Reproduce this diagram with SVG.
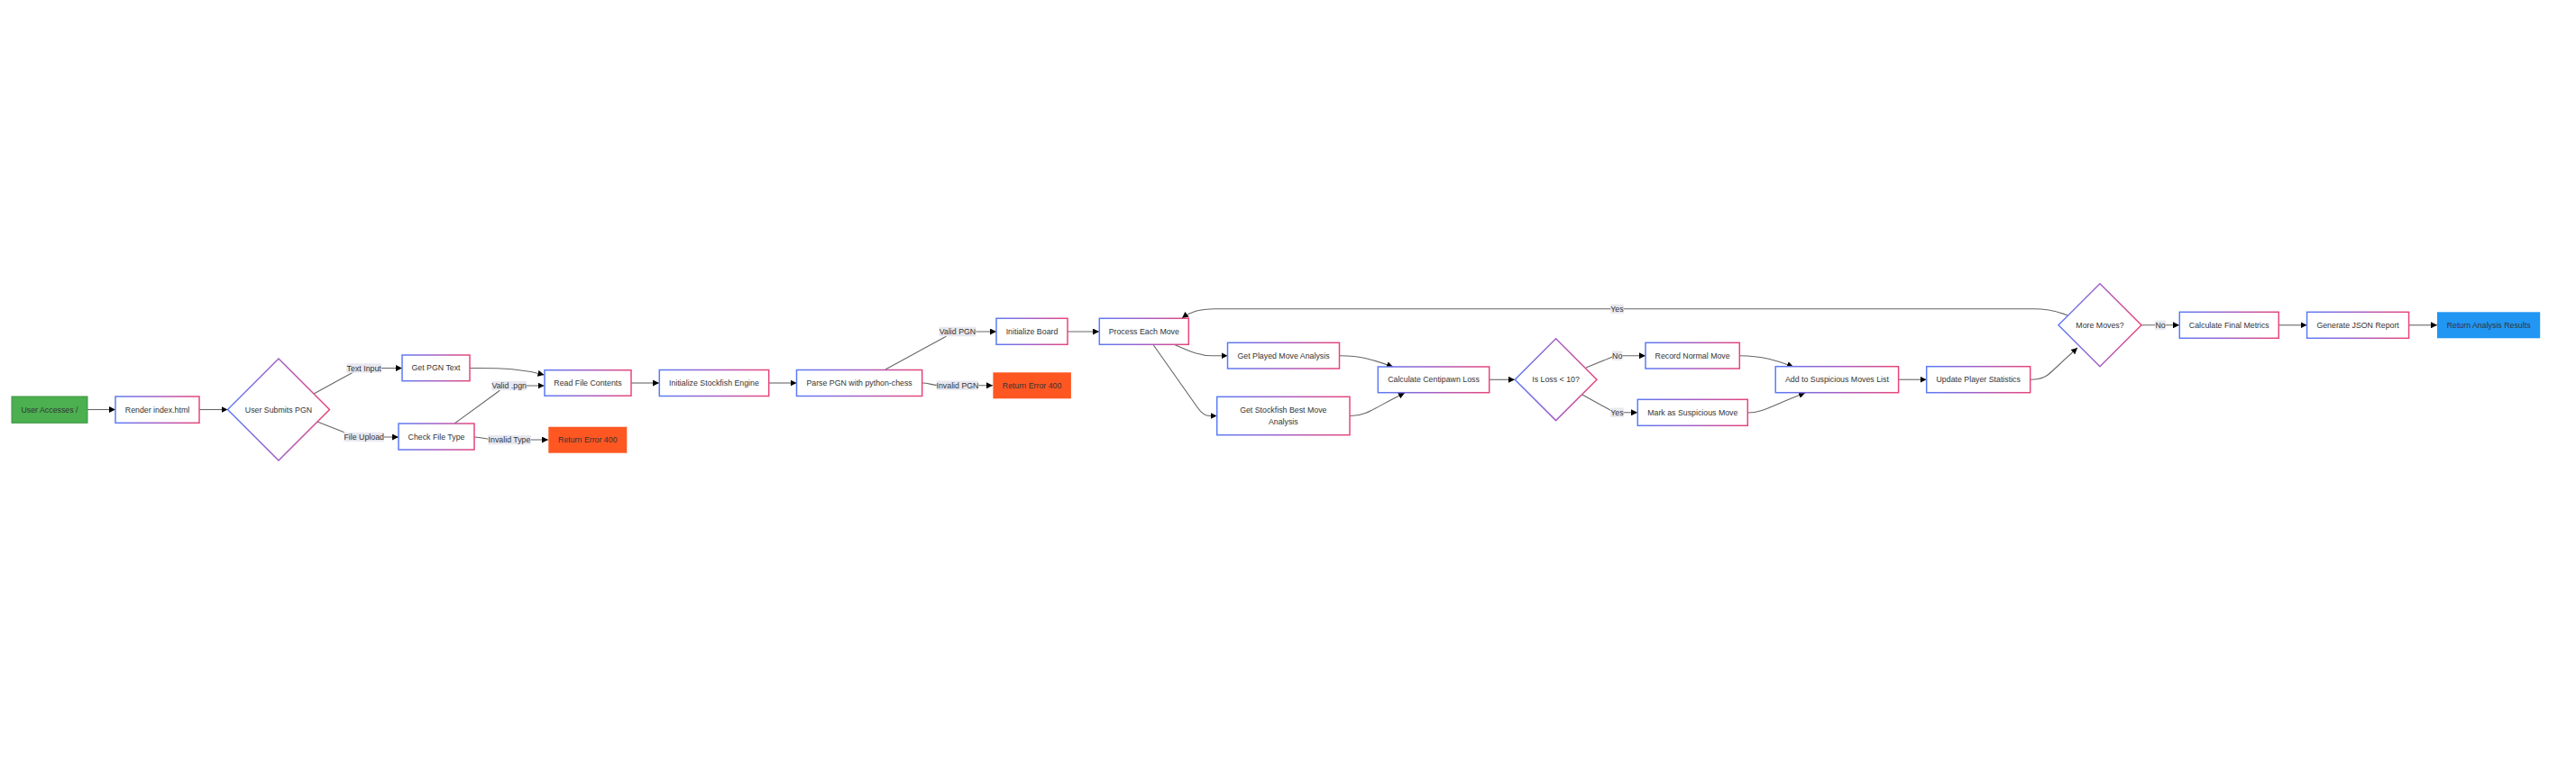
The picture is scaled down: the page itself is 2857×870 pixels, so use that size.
<svg xmlns="http://www.w3.org/2000/svg" width="2857" height="870" viewBox="0 0 2857 870">
<style>
.bg{fill:#ffffff}
.node{fill:#ffffff;stroke:url(#g);stroke-width:1.5}
.t{font-family:"Liberation Sans",Arial,sans-serif;font-size:8.8px;fill:#333333;text-anchor:middle;dominant-baseline:central}
.e{fill:none;stroke:#666666;stroke-width:1.1}
.lb{fill:#e8e8f0}
</style>
<defs>
<linearGradient id="g" x1="0" y1="0" x2="1" y2="0">
<stop offset="0" stop-color="#5b7bf6"/>
<stop offset="0.5" stop-color="#a35fc6"/>
<stop offset="1" stop-color="#e8457a"/>
</linearGradient>
<marker id="a" viewBox="0 0 10 10" refX="10" refY="5" markerWidth="7" markerHeight="7" markerUnits="userSpaceOnUse" orient="auto">
<path d="M0,0 L10,5 L0,10 z" fill="#000000"/>
</marker>
</defs>
<rect class="bg" x="0" y="0" width="2857" height="870"/>
<g id="connectors">
<path class="e" marker-end="url(#a)" d="M97,454.5 L128,454.5"/>
<path class="e" marker-end="url(#a)" d="M221,454.5 L252.5,454.5"/>
<path class="e" marker-end="url(#a)" d="M348,437 L390,414 C394,412 397,408.5 403,408.5 L446,408.5"/>
<path class="e" marker-end="url(#a)" d="M352,468 L380,479 C384,481 387,485 393,485 L442,485"/>
<path class="e" marker-end="url(#a)" d="M521,408.5 C560,408 580,410 603.5,416"/>
<path class="e" marker-end="url(#a)" d="M504,470 L552,435 C556,432 558,428 565,428 L603.5,428"/>
<path class="e" marker-end="url(#a)" d="M526,485 C535,485 540,488 548,488 L608,488"/>
<path class="e" marker-end="url(#a)" d="M700,425 L731,425"/>
<path class="e" marker-end="url(#a)" d="M853,425 L883.5,425"/>
<path class="e" marker-end="url(#a)" d="M982,410 L1048,374 C1052,371 1055,368 1062,368 L1105,368"/>
<path class="e" marker-end="url(#a)" d="M1023,425 C1030,425 1035,427.8 1042,427.8 L1101,427.8"/>
<path class="e" marker-end="url(#a)" d="M1184,368 L1219,368"/>
<path class="e" marker-end="url(#a)" d="M1303,382.5 C1320,390 1330,394.7 1345,394.7 L1361.5,394.7"/>
<path class="e" marker-end="url(#a)" d="M1279,382.5 L1328,452 C1332,458 1336,461.5 1342,461.5 L1349.5,461.5"/>
<path class="e" marker-end="url(#a)" d="M1485.5,394.7 C1510,394.5 1525,400 1545,407"/>
<path class="e" marker-end="url(#a)" d="M1497,461.5 C1515,462 1525,452 1558,436"/>
<path class="e" marker-end="url(#a)" d="M1652,421.3 L1680,421.3"/>
<path class="e" marker-end="url(#a)" d="M1759,408 L1786,397 C1789,395.5 1790,394.7 1794,394.7 L1825,394.7"/>
<path class="e" marker-end="url(#a)" d="M1755,438 L1784,454 C1787,456 1789,457.8 1794,457.8 L1816,457.8"/>
<path class="e" marker-end="url(#a)" d="M1929.5,394.7 C1955,394.7 1970,400 1989,407"/>
<path class="e" marker-end="url(#a)" d="M1938.5,458 C1955,458 1965,450 2002,436"/>
<path class="e" marker-end="url(#a)" d="M2105.5,421.2 L2136.5,421.2"/>
<path class="e" marker-end="url(#a)" d="M2252,421.2 C2265,421.2 2270,418 2278,410 L2304,386"/>
<path class="e" marker-end="url(#a)" d="M2375,360.8 L2417,360.8"/>
<path class="e" marker-end="url(#a)" d="M2527.5,360.8 L2558.5,360.8"/>
<path class="e" marker-end="url(#a)" d="M2672,360.8 L2703,360.8"/>
<path class="e" marker-end="url(#a)" d="M2293,350 C2280,344.5 2270,342.7 2255,342.7 L1348,342.7 C1330,342.7 1320,346 1311,353"/>
<rect class="lb" x="384.3" y="403.3" width="38.7" height="10.4"/>
<text class="t" x="403.7" y="408.5">Text Input</text>
<rect class="lb" x="381.3" y="479.8" width="44.7" height="10.4"/>
<text class="t" x="403.7" y="485">File Upload</text>
<rect class="lb" x="545.3" y="422.8" width="38.7" height="10.4"/>
<text class="t" x="564.7" y="428">Valid .pgn</text>
<rect class="lb" x="541.2" y="483" width="47.7" height="10.4"/>
<text class="t" x="565" y="488.2">Invalid Type</text>
<rect class="lb" x="1041.7" y="362.8" width="40.7" height="10.4"/>
<text class="t" x="1062" y="368">Valid PGN</text>
<rect class="lb" x="1038.7" y="422.5" width="46.7" height="10.4"/>
<text class="t" x="1062" y="427.7">Invalid PGN</text>
<rect class="lb" x="1788" y="389.5" width="11.4" height="10.4"/>
<text class="t" x="1793.7" y="394.7">No</text>
<rect class="lb" x="1786.3" y="452.6" width="14.5" height="10.4"/>
<text class="t" x="1793.5" y="457.8">Yes</text>
<rect class="lb" x="1786.3" y="337.6" width="14.5" height="10.4"/>
<text class="t" x="1793.5" y="342.8">Yes</text>
<rect class="lb" x="2390.2" y="355.6" width="11.7" height="10.4"/>
<text class="t" x="2396" y="360.8">No</text>
</g>
<g id="n1"><rect x="13" y="440" width="84" height="29.3" fill="#4caf50" stroke="#3e9442" stroke-width="1"/><text class="t" x="55" y="454.6">User Accesses /</text></g>
<g id="n2"><rect class="node" x="128" y="440" width="93" height="29.3"/><text class="t" x="174.5" y="454.6">Render index.html</text></g>
<g id="n3"><polygon class="node" points="309,398 365.5,454.5 309,511 252.5,454.5"/><text class="t" x="309" y="454.5">User Submits PGN</text></g>
<g id="n4"><rect class="node" x="446" y="394" width="75" height="28.7"/><text class="t" x="483.5" y="408.4">Get PGN Text</text></g>
<g id="n5"><rect class="node" x="442" y="470" width="84" height="29"/><text class="t" x="484" y="484.5">Check File Type</text></g>
<g id="n6"><rect class="node" x="604" y="410.7" width="96" height="28.5"/><text class="t" x="652" y="425">Read File Contents</text></g>
<g id="n7"><rect x="608.3" y="473.7" width="87" height="29" fill="#ff5722"/><text class="t" x="651.8" y="488.2">Return Error 400</text></g>
<g id="n8"><rect class="node" x="731.3" y="410.5" width="121.4" height="29"/><text class="t" x="792" y="425">Initialize Stockfish Engine</text></g>
<g id="n9"><rect class="node" x="883.5" y="410.5" width="139.2" height="29"/><text class="t" x="953.1" y="425">Parse PGN with python-chess</text></g>
<g id="n10"><rect class="node" x="1105" y="353.3" width="79" height="29"/><text class="t" x="1144.5" y="367.8">Initialize Board</text></g>
<g id="n11"><rect x="1101.4" y="413.3" width="86.5" height="29" fill="#ff5722"/><text class="t" x="1144.6" y="427.8">Return Error 400</text></g>
<g id="n12"><rect class="node" x="1219.3" y="353.3" width="99" height="29"/><text class="t" x="1268.8" y="367.8">Process Each Move</text></g>
<g id="n13"><rect class="node" x="1361.5" y="380.3" width="124" height="28.7"/><text class="t" x="1423.5" y="394.7">Get Played Move Analysis</text></g>
<g id="n14"><rect class="node" x="1349.7" y="440.3" width="147.3" height="42.4"/><text class="t" x="1423.3" y="455">Get Stockfish Best Move</text><text class="t" x="1423.3" y="467.7">Analysis</text></g>
<g id="n15"><rect class="node" x="1528.3" y="407" width="123.4" height="28.7"/><text class="t" x="1590" y="421.3">Calculate Centipawn Loss</text></g>
<g id="n16"><polygon class="node" points="1725.6,375.8 1771,421.2 1725.6,466.6 1680.2,421.2"/><text class="t" x="1725.6" y="421.2">Is Loss &lt; 10?</text></g>
<g id="n17"><rect class="node" x="1825" y="380.3" width="104.3" height="28.7"/><text class="t" x="1877.1" y="394.7">Record Normal Move</text></g>
<g id="n18"><rect class="node" x="1816.3" y="443.3" width="122" height="29"/><text class="t" x="1877.3" y="457.8">Mark as Suspicious Move</text></g>
<g id="n19"><rect class="node" x="1969.2" y="406.7" width="136.4" height="29"/><text class="t" x="2037.4" y="421.2">Add to Suspicious Moves List</text></g>
<g id="n20"><rect class="node" x="2136.7" y="406.7" width="115" height="29"/><text class="t" x="2194.2" y="421.2">Update Player Statistics</text></g>
<g id="n21"><polygon class="node" points="2329,314.8 2375,360.8 2329,406.8 2283,360.8"/><text class="t" x="2329" y="360.8">More Moves?</text></g>
<g id="n22"><rect class="node" x="2417.3" y="346.3" width="110" height="29"/><text class="t" x="2472.3" y="360.8">Calculate Final Metrics</text></g>
<g id="n23"><rect class="node" x="2558.6" y="346.3" width="113" height="29"/><text class="t" x="2615.1" y="360.8">Generate JSON Report</text></g>
<g id="n24"><rect x="2703" y="346.3" width="114.2" height="29" fill="#2196f3"/><text class="t" x="2760.1" y="360.8">Return Analysis Results</text></g>
</svg>
